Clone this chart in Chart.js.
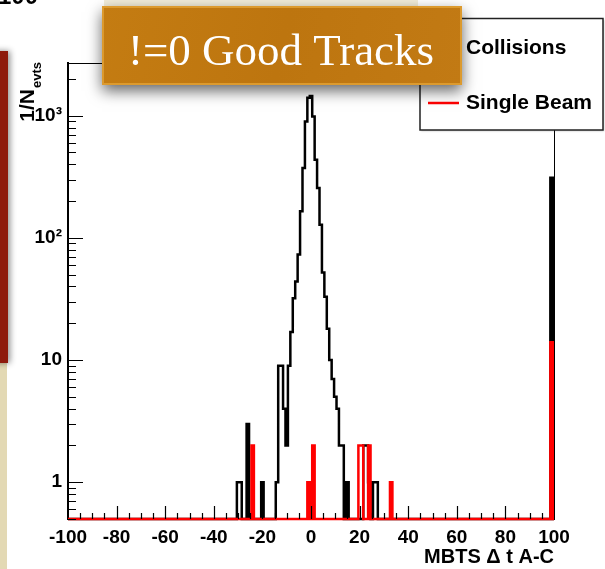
<!DOCTYPE html>
<html><head><meta charset="utf-8">
<script src="https://cdn.jsdelivr.net/npm/chart.js@4.4.1/dist/chart.umd.min.js"></script>
<style>html,body{margin:0;padding:0;background:#fff;overflow:hidden}canvas{display:block}</style>
</head><body>
<canvas id="c" width="605" height="569"></canvas>
<script>
// ---- data (histogram, bin width 1, bins centred on integers) ----
const xTickValues = [-100, -80, -60, -40, -20, 0, 20, 40, 60, 80, 100];
const xTickLabels = ['-100', '-80', '-60', '-40', '-20', '0', '20', '40', '60', '80', '100'];
const yTickValues = [1, 10, 100, 1000];
const yTickLabels = ['1', '10', '10\u00B2', '10\u00B3'];
const yAxisMin = 0.5, yAxisMax = 2700;

const collisionsBins   = [-30, -29, -26, -20, -14, -13, -12, -11, -10, -9, -8, -7, -6, -5, -4, -3, -2, -1, 0, 1, 2, 3, 4, 5, 6, 7, 8, 9, 10, 11, 12, 13, 15, 22, 23, 24, 26, 27, 99];
const collisionsCounts = [1, 1, 3, 1, 1, 9, 9, 4, 2, 9, 17, 32, 44, 73, 165, 373, 897, 1400, 1450, 985, 435, 256, 128, 52, 33, 18, 10, 7, 5, 4, 2, 2, 1, 2, 2, 1, 1, 1, 310];

const singleBeamBins   = [-24, -1, 1, 20, 21, 24, 33, 99];
const singleBeamCounts = [2, 1, 2, 2, 2, 2, 1, 14];

const firstBin = -100, lastBin = 99;
const seriesNames = ['Collisions', 'Single Beam'];
const xTitle = 'MBTS \u0394 t A-C';
const overlayText = '!=0 Good Tracks';

// empty bins are drawn on the bottom of the log axis (as ROOT does)
function buildSteps(bins, counts) {
  const map = new Map();
  bins.forEach((b, i) => map.set(b, counts[i]));
  const val = c => { const n = map.get(c) || 0; return n > 0 ? n : yAxisMin; };
  const pts = [];
  for (let c = firstBin; c <= lastBin; c++) {
    pts.push({ x: c === firstBin ? firstBin : c - 0.5, y: val(c) });
  }
  pts.push({ x: lastBin + 0.5, y: val(lastBin) });
  pts.push({ x: lastBin + 0.5, y: yAxisMin });
  pts.push({ x: 100, y: yAxisMin });
  return pts;
}

const decorations = {
  id: 'decorations',
  beforeDraw(chart) {
    const ctx = chart.ctx;
    ctx.save();
    ctx.fillStyle = '#ffffff';
    ctx.fillRect(0, 0, chart.width, chart.height);
    ctx.fillStyle = '#e3d9b4';
    ctx.fillRect(0, 355, 7, 214);
    ctx.fillStyle = '#f1ecd9';
    ctx.fillRect(104, 0, 314, 8);
    ctx.shadowColor = 'rgba(0,0,0,0.45)';
    ctx.shadowBlur = 6;
    ctx.shadowOffsetX = 2;
    ctx.fillStyle = '#8e1a0c';
    ctx.fillRect(-10, 51, 18, 312);
    ctx.shadowColor = 'transparent';
    ctx.fillStyle = '#000';
    ctx.font = 'bold 24px "Liberation Sans", Arial, sans-serif';
    ctx.textBaseline = 'alphabetic';
    ctx.fillText('100', -2, 4);
    ctx.restore();
  },
  afterDraw(chart) {
    const ctx = chart.ctx;
    const a = chart.chartArea;
    const xs = chart.scales.x, ys = chart.scales.y;
    ctx.save();
    ctx.strokeStyle = '#000';
    ctx.lineWidth = 1;
    ctx.beginPath();
    ctx.moveTo(a.left, a.top + 0.5); ctx.lineTo(a.right + 0.5, a.top + 0.5);
    ctx.lineTo(a.right + 0.5, a.bottom);
    ctx.stroke();
    ctx.lineWidth = 1.2;
    ctx.beginPath();
    for (let v = -95; v < 100; v += 5) {
      const px = Math.round(xs.getPixelForValue(v)) + 0.5;
      const len = (v % 20 === 0) ? 13 : 6;
      ctx.moveTo(px, a.bottom); ctx.lineTo(px, a.bottom - len);
    }
    [0.1, 1, 10, 100, 1000].forEach(d => {
      for (let m = 1; m <= 9; m++) {
        const v = d * m;
        if (v < ys.min || v > ys.max) continue;
        const py = Math.round(ys.getPixelForValue(v)) + 0.5;
        const len = m === 1 ? 15 : 8;
        ctx.moveTo(a.left, py); ctx.lineTo(a.left + len, py);
      }
    });
    ctx.stroke();

    // y-axis title 1/N_evts (rotated)
    ctx.save();
    ctx.translate(34, a.top - 1);
    ctx.rotate(-Math.PI / 2);
    ctx.fillStyle = '#000';
    ctx.textBaseline = 'alphabetic';
    ctx.font = 'bold 13px "Liberation Sans", Arial, sans-serif';
    ctx.textAlign = 'right';
    const subW = ctx.measureText('evts').width;
    ctx.fillText('evts', 0, 7);
    ctx.font = 'bold 21px "Liberation Sans", Arial, sans-serif';
    ctx.fillText('1/N', -subW - 1, 0);
    ctx.restore();

    // legend box
    ctx.shadowColor = 'rgba(0,0,0,0.25)';
    ctx.shadowBlur = 2; ctx.shadowOffsetX = 1; ctx.shadowOffsetY = 1;
    ctx.fillStyle = '#fff';
    ctx.fillRect(420, 18.5, 183, 111.5);
    ctx.shadowColor = 'transparent';
    ctx.strokeStyle = '#222';
    ctx.lineWidth = 1.5;
    ctx.strokeRect(420, 18.5, 183, 111.5);
    const dsets = chart.data.datasets;
    const entries = [
      { name: seriesNames[0], color: dsets[1].borderColor, y: 48 },
      { name: seriesNames[1], color: dsets[0].borderColor, y: 103 }
    ];
    ctx.font = 'bold 21px "Liberation Sans", Arial, sans-serif';
    ctx.textAlign = 'left';
    ctx.textBaseline = 'middle';
    entries.forEach(e => {
      ctx.strokeStyle = e.color; ctx.lineWidth = 2.5;
      ctx.beginPath(); ctx.moveTo(428, e.y); ctx.lineTo(459, e.y); ctx.stroke();
      ctx.fillStyle = '#000';
      ctx.fillText(e.name, 466, e.y);
    });

    // golden overlay box
    ctx.shadowColor = 'rgba(0,0,0,0.6)';
    ctx.shadowBlur = 14; ctx.shadowOffsetX = 0; ctx.shadowOffsetY = 6;
    const g = ctx.createLinearGradient(102, 6, 462, 85);
    g.addColorStop(0, '#c47c12');
    g.addColorStop(0.5, '#bd750f');
    g.addColorStop(1, '#c27a14');
    ctx.fillStyle = g;
    ctx.fillRect(102, 6, 360, 79);
    ctx.shadowColor = 'transparent';
    ctx.strokeStyle = '#dc9a2e';
    ctx.lineWidth = 2;
    ctx.strokeRect(103, 7, 358, 77);
    ctx.fillStyle = '#ffffff';
    ctx.font = '45px "Liberation Serif", "DejaVu Serif", serif';
    ctx.textAlign = 'center';
    ctx.textBaseline = 'alphabetic';
    ctx.fillText(overlayText, 281, 65);
    ctx.restore();
  }
};

const tickFont = { family: '"Liberation Sans", Arial, sans-serif', weight: 'bold', size: 19 };

new Chart(document.getElementById('c'), {
  type: 'line',
  data: {
    datasets: [
      { label: seriesNames[1], data: buildSteps(singleBeamBins, singleBeamCounts), borderColor: '#ff0000',
        borderWidth: 2.5, stepped: true, pointRadius: 0, fill: false, tension: 0,
        clip: { left: 0, top: 0, right: 2, bottom: 3 } },
      { label: seriesNames[0], data: buildSteps(collisionsBins, collisionsCounts), borderColor: '#000000',
        borderWidth: 2.5, stepped: true, pointRadius: 0, fill: false, tension: 0,
        clip: { left: 0, top: 0, right: 2, bottom: 3 } }
    ]
  },
  options: {
    responsive: false,
    animation: false,
    devicePixelRatio: 1,
    layout: { padding: { left: 0, right: 51, top: 63, bottom: 0 } },
    plugins: { legend: { display: false }, tooltip: { enabled: false } },
    scales: {
      x: {
        type: 'linear', min: -100, max: 100, position: 'bottom',
        grid: { display: false, drawTicks: false },
        border: { display: true, color: '#000', width: 2 },
        afterBuildTicks: s => { s.ticks = xTickValues.map(v => ({ value: v })); },
        afterFit: s => { s.height = 50; },
        ticks: {
          autoSkip: false, maxRotation: 0, padding: 7, color: '#000', font: tickFont,
          callback: v => xTickLabels[xTickValues.indexOf(v)]
        },
        title: { display: true, text: xTitle, align: 'end', color: '#000',
          font: { family: '"Liberation Sans", Arial, sans-serif', weight: 'bold', size: 20 },
          padding: { top: 0, bottom: 0 } }
      },
      y: {
        type: 'logarithmic', min: yAxisMin, max: yAxisMax, position: 'left',
        grid: { display: false, drawTicks: false },
        border: { display: true, color: '#000', width: 2 },
        afterBuildTicks: s => { s.ticks = yTickValues.map(v => ({ value: v })); },
        afterFit: s => { s.width = 68; },
        ticks: {
          autoSkip: false, padding: 6, color: '#000',
          font: { family: '"Liberation Sans", Arial, sans-serif', weight: 'bold', size: 19 },
          callback: v => yTickLabels[yTickValues.indexOf(v)]
        }
      }
    }
  },
  plugins: [decorations]
});
</script>
</body></html>
